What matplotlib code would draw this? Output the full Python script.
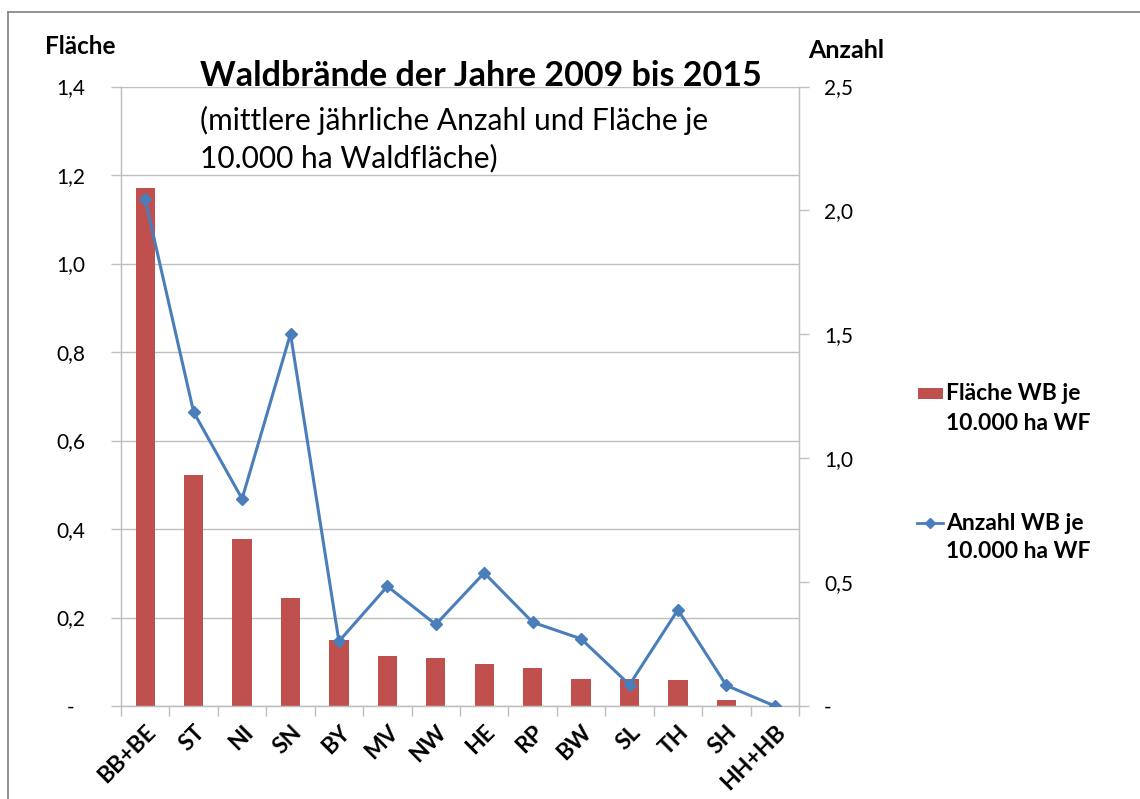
import matplotlib.pyplot as plt
from matplotlib.lines import Line2D
from matplotlib.patches import Rectangle
import numpy as np

plt.rcParams['font.family'] = ['Lato', 'DejaVu Sans']

laender = ["BB+BE", "ST", "NI", "SN", "BY", "MV", "NW", "HE", "RP", "BW", "SL", "TH", "SH", "HH+HB"]
flaeche = [1.171, 0.523, 0.378, 0.243, 0.150, 0.112, 0.108, 0.095, 0.087, 0.061, 0.061, 0.059, 0.014, 0.0]
anzahl = [2.044, 1.186, 0.836, 1.502, 0.261, 0.483, 0.329, 0.537, 0.338, 0.271, 0.086, 0.388, 0.083, 0.0]

left_ticks = [0, 0.2, 0.4, 0.6, 0.8, 1.0, 1.2, 1.4]
left_labels = ["-  ", "0,2", "0,4", "0,6", "0,8", "1,0", "1,2", "1,4"]
right_ticks = [0, 0.5, 1.0, 1.5, 2.0, 2.5]
right_labels = ["-", "0,5", "1,0", "1,5", "2,0", "2,5"]

W, H = 1140, 799
RED = "#C0504D"
BLUE = "#4A7EBB"
GRID = "#BFBFBF"


def fx(px):
    return px / W


def fy(py):
    return 1 - py / H


fig = plt.figure(figsize=(11.4, 7.99), dpi=100)
fig.patch.set_facecolor("white")

# outer chart frame (only top and left visible)
fig.add_artist(Line2D([fx(8), fx(1140)], [fy(12), fy(12)], color="#7F7F7F", lw=1.2))
fig.add_artist(Line2D([fx(8), fx(8)], [fy(12), fy(799)], color="#7F7F7F", lw=1.2))

ax = fig.add_axes([fx(121), fy(706), fx(799) - fx(121), fy(86.5) - fy(706)])
x = np.arange(len(laender))
ax.bar(x, flaeche, width=0.4, color=RED, zorder=2)
ax.set_xlim(-0.5, len(laender) - 0.5)
ax.set_ylim(0, 1.4)
ax.set_yticks(left_ticks)
ax.set_yticklabels(left_labels, fontsize=15)
ax.yaxis.grid(True, color=GRID, lw=1)
ax.set_axisbelow(True)
ax.tick_params(axis="y", length=7, width=1, color=GRID, pad=19)

ax.set_xticks(x)
ax.set_xticklabels(laender, rotation=45, ha="right", va="top", rotation_mode="anchor",
                   fontsize=16.5, fontweight="bold")
ax.set_xticks(np.arange(len(laender) + 1) - 0.5, minor=True)
ax.tick_params(axis="x", which="major", length=0, pad=11)
ax.tick_params(axis="x", which="minor", length=7, width=1, color=GRID)

ax.spines["top"].set_visible(False)
for s in ["left", "bottom", "right"]:
    ax.spines[s].set_color(GRID)
    ax.spines[s].set_linewidth(1)

ax2 = ax.twinx()
ax2.plot(x, anzahl, color=BLUE, lw=2.2, marker="D", markersize=6.5, zorder=3)
ax2.set_ylim(0, 2.5)
ax2.set_yticks(right_ticks)
ax2.set_yticklabels(right_labels, fontsize=15)
ax2.tick_params(axis="y", length=7, width=1, color=GRID, pad=11)
ax2.spines["top"].set_visible(False)
for s in ["left", "bottom", "right"]:
    ax2.spines[s].set_color(GRID)

# axis titles
fig.text(fx(45), fy(47), "Fläche", fontsize=17.5, fontweight="bold", va="center", ha="left")
fig.text(fx(808), fy(50), "Anzahl", fontsize=18, fontweight="bold", va="center", ha="left")

# title
fig.text(fx(200), fy(76), "Waldbrände der Jahre 2009 bis 2015", fontsize=24.5, fontweight="bold",
         va="center", ha="left")
fig.text(fx(200), fy(120), "(mittlere jährliche Anzahl und Fläche je", fontsize=21.5,
         va="center", ha="left")
fig.text(fx(200), fy(158), "10.000 ha Waldfläche)", fontsize=21.5, va="center", ha="left")

# legend
fig.add_artist(Rectangle((fx(918), fy(399)), fx(25), fy(388) - fy(399), transform=fig.transFigure,
                         facecolor=RED, edgecolor="none"))
fig.text(fx(946), fy(393), "Fläche WB je", fontsize=16.5, fontweight="bold", va="center", ha="left")
fig.text(fx(946), fy(423), "10.000 ha WF", fontsize=16.5, fontweight="bold", va="center", ha="left")
fig.add_artist(Line2D([fx(917), fx(943)], [fy(523), fy(523)], color=BLUE, lw=2))
fig.add_artist(Line2D([fx(930)], [fy(523)], color=BLUE, marker="D", markersize=5))
fig.text(fx(946), fy(523), "Anzahl WB je", fontsize=16.5, fontweight="bold", va="center", ha="left")
fig.text(fx(946), fy(551), "10.000 ha WF", fontsize=16.5, fontweight="bold", va="center", ha="left")

fig.savefig("out.png", dpi=100)
